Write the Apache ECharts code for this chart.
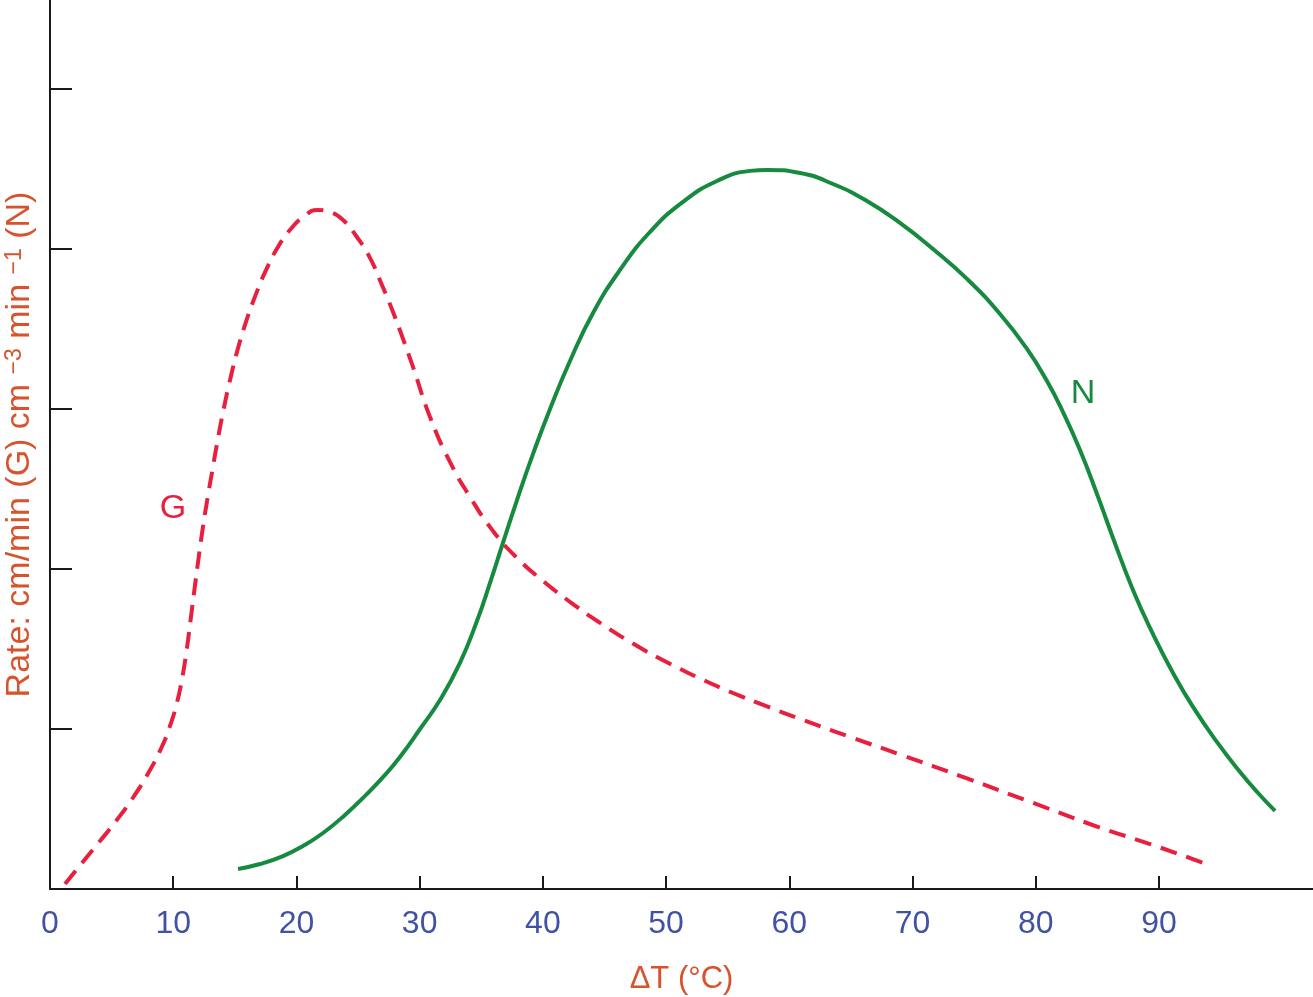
<!DOCTYPE html>
<html>
<head>
<meta charset="utf-8">
<script src="https://cdn.jsdelivr.net/npm/echarts@6/dist/echarts.min.js"></script>
<style>
html,body{margin:0;padding:0;background:#fff;}
#chart{width:1313px;height:997px;}
</style>
</head>
<body>
<div id="chart"></div>
<script>
// ΔT (°C) values and rates (in y-tick units)
var gX = [1.22, 2.60, 4.06, 5.42, 6.77, 7.98, 9.03, 9.71, 10.30, 10.73,
          11.07, 11.47, 11.74, 12.08, 12.40, 12.76, 13.18, 13.58, 14.08, 14.65,
          15.22, 15.88, 16.69, 17.54, 18.55, 19.61, 20.66, 21.67, 22.72, 23.78,
          24.91, 25.97, 26.94, 27.84, 28.65, 29.46, 30.84, 32.46, 34.09, 35.95,
          37.90, 40.01, 42.44, 44.64, 47.31, 50.07, 52.75, 55.43, 58.19, 60.87,
          64.93, 68.98, 74.42, 79.78, 85.21, 89.27, 93.73];
var gY = [0.031, 0.163, 0.300, 0.431, 0.575, 0.725, 0.881, 1.013, 1.163, 1.319,
          1.481, 1.719, 1.881, 2.081, 2.256, 2.431, 2.619, 2.794, 2.994, 3.194,
          3.369, 3.538, 3.713, 3.869, 4.019, 4.131, 4.206, 4.244, 4.231, 4.181,
          4.075, 3.944, 3.775, 3.606, 3.438, 3.263, 2.950, 2.669, 2.450, 2.238,
          2.069, 1.925, 1.781, 1.663, 1.534, 1.417, 1.316, 1.225, 1.141, 1.063,
          0.950, 0.841, 0.691, 0.538, 0.384, 0.281, 0.159];

var nX = [15.26, 17.04, 18.91, 20.53, 22.16, 23.94, 25.73, 27.19, 28.40, 30.03,
          31.65, 33.27, 34.65, 35.71, 36.76, 37.90, 39.20, 40.58, 42.20, 44.07,
          46.26, 48.69, 51.37, 54.13, 56.81, 58.19, 60.87, 63.55, 66.30, 68.98,
          71.66, 74.42, 77.10, 79.29, 80.91, 82.21, 83.59, 84.97, 86.27, 87.89,
          89.51, 91.14, 92.76, 94.70, 96.58, 98.04, 99.42];
var nY = [0.125, 0.156, 0.206, 0.269, 0.350, 0.463, 0.594, 0.713, 0.825, 1.000,
          1.181, 1.413, 1.675, 1.913, 2.163, 2.431, 2.719, 3.000, 3.300, 3.600,
          3.869, 4.106, 4.294, 4.425, 4.488, 4.494, 4.475, 4.406, 4.300, 4.163,
          4.000, 3.813, 3.594, 3.375, 3.175, 2.981, 2.744, 2.469, 2.194, 1.869,
          1.594, 1.350, 1.138, 0.919, 0.731, 0.600, 0.488];

var xTickValues = [10, 20, 30, 40, 50, 60, 70, 80, 90];
var xLabelValues = [0, 10, 20, 30, 40, 50, 60, 70, 80, 90];
var yTickValues = [1, 2, 3, 4, 5];

var gLabel = [9.98, 2.375];
var nLabel = [83.83, 3.094];

function pairs(xs, ys) {
  var out = [];
  for (var i = 0; i < xs.length; i++) out.push([xs[i], ys[i]]);
  return out;
}

var FONT = "'Liberation Sans', Arial, sans-serif";
var RED = '#e8203f';
var GREEN = '#168a3f';
var TITLE = '#d6532b';
var BLUE = '#4152a6';

function labelSeries(coord, text, color) {
  return {
    name: text + ' label',
    type: 'scatter',
    silent: true,
    symbol: 'circle',
    symbolSize: 1,
    itemStyle: {color: 'rgba(0,0,0,0)', opacity: 1},
    data: [coord],
    label: {show: true, position: 'inside', formatter: text, color: color, opacity: 1, fontSize: 34, fontFamily: FONT},
    z: 5
  };
}

var chart = echarts.init(document.getElementById('chart'), null, {renderer: 'canvas'});
chart.setOption({
  animation: false,
  backgroundColor: '#fff',
  grid: {left: 50, right: 0, top: 0, bottom: 108, containLabel: false, outerBoundsMode: 'none'},
  xAxis: {
    type: 'value',
    min: 0,
    max: 102.5,
    interval: 10,
    name: 'ΔT (°C)',
    nameLocation: 'middle',
    nameGap: 75,
    nameTextStyle: {color: TITLE, fontSize: 31, fontFamily: FONT},
    axisLine: {show: true, onZero: false, lineStyle: {color: '#1a1a1a', width: 2}},
    axisTick: {show: true, inside: true, length: 13, customValues: xTickValues, lineStyle: {color: '#1a1a1a', width: 2}},
    axisLabel: {show: true, customValues: xLabelValues, margin: 19, color: BLUE, fontSize: 32, fontFamily: FONT},
    splitLine: {show: false}
  },
  yAxis: {
    type: 'value',
    min: 0,
    max: 5.556,
    interval: 1,
    name: 'Rate: cm/min (G) cm {sup|−3} min {sup|−1} (N)',
    nameLocation: 'middle',
    nameGap: 13,
    nameRotate: 90,
    nameTextStyle: {
      color: TITLE, fontSize: 34, fontFamily: FONT,
      rich: {sup: {color: TITLE, fontSize: 23, fontFamily: FONT, verticalAlign: 'top'}}
    },
    axisLine: {show: true, onZero: false, lineStyle: {color: '#1a1a1a', width: 2}},
    axisTick: {show: true, inside: true, length: 22, customValues: yTickValues, lineStyle: {color: '#1a1a1a', width: 2}},
    axisLabel: {show: false},
    splitLine: {show: false}
  },
  series: [
    {
      name: 'G',
      type: 'line',
      data: pairs(gX, gY),
      smooth: 0.5,
      showSymbol: false,
      symbol: 'none',
      lineStyle: {color: RED, width: 4, type: [17, 10], cap: 'butt'}
    },
    {
      name: 'N',
      type: 'line',
      data: pairs(nX, nY),
      smooth: 0.5,
      showSymbol: false,
      symbol: 'none',
      lineStyle: {color: GREEN, width: 4}
    },
    labelSeries(gLabel, 'G', RED),
    labelSeries(nLabel, 'N', GREEN)
  ]
});
</script>
</body>
</html>
